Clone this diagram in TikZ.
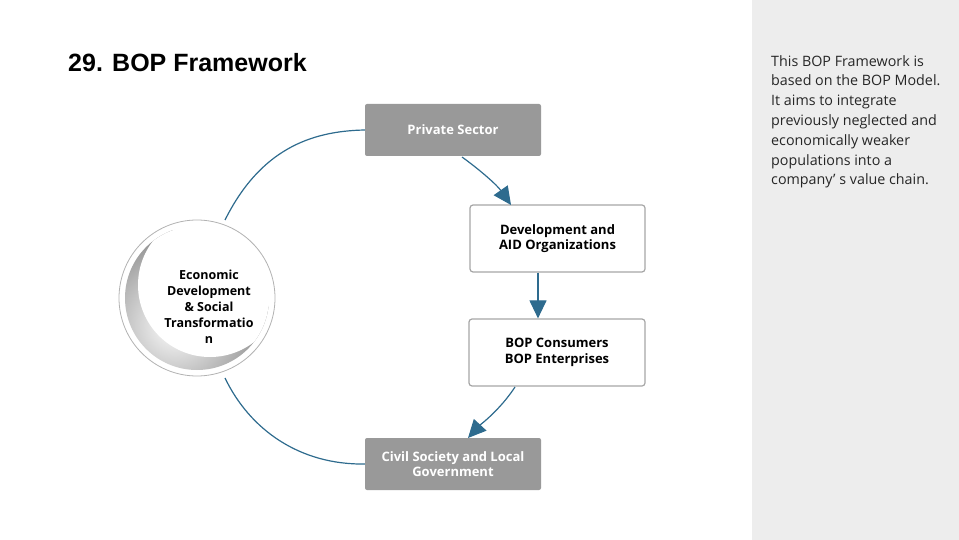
\documentclass[tikz,border=0pt]{standalone}
\usepackage{fontspec}
\setmainfont{Open Sans}
\newfontfamily\titlefont{Liberation Sans}
\usetikzlibrary{arrows.meta}
\definecolor{arr}{HTML}{2E6B8E}
\begin{document}
\begin{tikzpicture}[x=1pt,y=-1pt,
 gbox/.style={draw=none,fill=black!40,rounded corners=2pt,text=white,font=\fontsize{13}{15}\selectfont\bfseries,align=center},
 wbox/.style={draw=black!35,line width=1.2pt,fill=white,rounded corners=3pt,font=\fontsize{13}{15.5}\selectfont\bfseries,align=center},
 conn/.style={draw=arr,line width=1.2pt},
 tip/.style={-{Triangle[length=18pt,width=17pt]}}]
\useasboundingbox (0,0) rectangle (959,540);
\fill[black!7] (752,0) rectangle (959,540);
\node[anchor=west,inner sep=0pt,font=\titlefont\fontsize{25}{28}\selectfont\bfseries] (title) at (68,63) {29. BOP Framework};
\node[anchor=north west,align=left,font=\fontsize{14.3}{19.8}\selectfont,text=black!85,inner sep=0pt] (desc) at (771,55)
 {This BOP Framework is\\based on the BOP Model.\\It aims to integrate\\previously neglected and\\economically weaker\\populations into a\\company’ s value chain.};
\node[gbox,minimum width=176pt,minimum height=52pt] (ps) at (453,130) {Private Sector};
\node[wbox,minimum width=175pt,minimum height=67pt] (dev) at (557.5,238.5) {Development and\\AID Organizations};
\node[wbox,minimum width=176pt,minimum height=67pt] (bop) at (557,352.5) {BOP Consumers\\BOP Enterprises};
\node[gbox,minimum width=176pt,minimum height=52pt] (cs) at (453,464) {Civil Society and Local\\Government};
% circle
\fill[white,draw=black!30,line width=0.8pt] (197,298) circle (78);
\begin{scope}
\clip (197,298) circle (72);
\shade[outer color=black!45,inner color=white] (175,325) circle (95);
\fill[white] (210,285) circle (72);
\end{scope}
\node[circle,minimum size=150pt,align=center,font=\fontsize{12.5}{16}\selectfont\bfseries] (eco) at (209,307) {Economic\\Development\\\& Social\\Transformatio\\n};
\coordinate (ct) at (225,220);
\coordinate (cb) at (225,378);
\draw[conn] (ct) .. controls (260,150) and (310,131) .. (ps.west);
\draw[conn,tip] (462,157) .. controls (480,170) and (497,185) .. (511,205);
\draw[conn,tip] (dev.south -| 538,0) -- (bop.north -| 538,0);
\draw[conn,tip] (515,387) .. controls (500,410) and (480,425) .. (468,438);
\draw[conn] (cs.west) .. controls (300,465) and (250,430) .. (cb);
\end{tikzpicture}
\end{document}
